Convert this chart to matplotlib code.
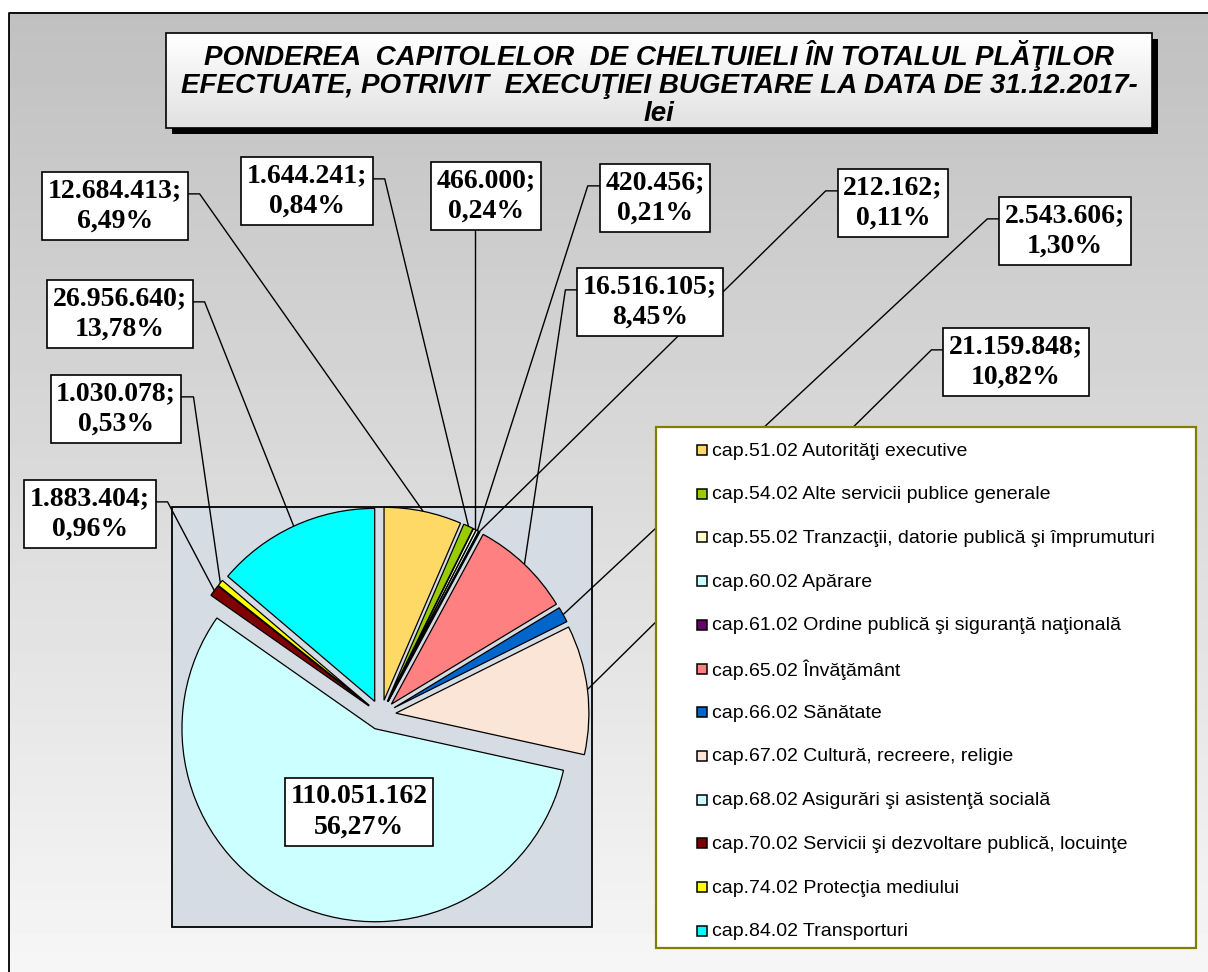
import numpy as np
import matplotlib
matplotlib.use("Agg")
import matplotlib.pyplot as plt
from matplotlib.patches import Rectangle
from matplotlib import font_manager

W, H = 1208, 972

titlu = ["PONDEREA  CAPITOLELOR  DE CHELTUIELI ÎN TOTALUL PLĂŢILOR",
         "EFECTUATE, POTRIVIT  EXECUŢIEI BUGETARE LA DATA DE 31.12.2017-",
         "lei"]

capitole = [
    "cap.51.02 Autorităţi executive",
    "cap.54.02 Alte servicii publice generale",
    "cap.55.02 Tranzacţii, datorie publică şi împrumuturi",
    "cap.60.02 Apărare",
    "cap.61.02 Ordine publică şi siguranţă naţională",
    "cap.65.02 Învăţământ",
    "cap.66.02 Sănătate",
    "cap.67.02 Cultură, recreere, religie",
    "cap.68.02 Asigurări şi asistenţă socială",
    "cap.70.02 Servicii şi dezvoltare publică, locuinţe",
    "cap.74.02 Protecţia mediului",
    "cap.84.02 Transporturi",
]
valori = [12684413, 1644241, 466000, 420456, 212162, 16516105,
          2543606, 21159848, 110051162, 1883404, 1030078, 26956640]
culori = ["#ffd966", "#99cc00", "#ffffcc", "#ccffff", "#660066", "#ff8080",
          "#0066cc", "#fbe5d6", "#ccffff", "#800000", "#ffff00", "#00ffff"]

# pozitia etichetelor (pixeli, y de sus) si latura din care pleaca linia
etichete_poz = [(115, 206, "right"), (307, 191, "right"), (486, 196, "bottom"),
                (655, 198, "left"), (893, 203, "left"), (650, 302, "left"),
                (1065, 231, "left"), (1016, 362, "left"), (359, 812, None),
                (90, 514, "right"), (116, 409, "right"), (120, 314, "right")]


def fy(y):
    return H - y


def fmt_val(v):
    return f"{v:,}".replace(",", ".")


def fmt_pct(p):
    return f"{p:.2f}".replace(".", ",") + "%"


names = {f.name for f in font_manager.fontManager.ttflist}
if "Liberation Sans Narrow" in names:
    title_font, title_size = "Liberation Sans Narrow", 25.3
else:
    title_font, title_size = "Liberation Sans", 20

fig = plt.figure(figsize=(W / 100, H / 100), dpi=100)
ax = fig.add_axes([0, 0, 1, 1])

# fundal cu gradient si chenar
grad = np.linspace(192, 246, 256).reshape(-1, 1) / 255
ax.imshow(grad, cmap="gray", vmin=0, vmax=1, aspect="auto",
          extent=(9, W, 0, fy(13)), origin="upper", zorder=0)
ax.plot([9, 9, W + 5], [-5, fy(13), fy(13)], color="black", lw=1.3, zorder=1)

# zona graficului
ax.add_patch(Rectangle((172, fy(927)), 420, 420, fc="#d6dce4", ec="black",
                       lw=1.3, zorder=1))

wedges, _ = ax.pie(valori, colors=culori, startangle=90, counterclock=False,
                   explode=[15] * len(valori), radius=193, center=(381, fy(715)),
                   wedgeprops=dict(edgecolor="black", linewidth=0.9, zorder=3))

total = sum(valori)
texte = []
for i, v in enumerate(valori):
    x, y, side = etichete_poz[i]
    sep = "" if side is None else ";"
    t = ax.text(x, fy(y), f"{fmt_val(v)}{sep}\n{fmt_pct(v / total * 100)}",
                ha="center", va="center", fontsize=20, fontweight="bold",
                family="Liberation Serif", linespacing=1.33, zorder=6,
                bbox=dict(boxstyle="square,pad=0.2", fc="white", ec="black", lw=1.2))
    texte.append(t)

ax.set_xlim(0, W)
ax.set_ylim(0, H)
ax.set_aspect("auto")
ax.axis("off")

fig.canvas.draw()
rend = fig.canvas.get_renderer()
for i, w in enumerate(wedges):
    side = etichete_poz[i][2]
    if side is None:
        continue
    th = np.deg2rad((w.theta1 + w.theta2) / 2)
    px = w.center[0] + w.r * np.cos(th)
    py = w.center[1] + w.r * np.sin(th)
    bb = texte[i].get_bbox_patch().get_window_extent(rend)
    ay = bb.y1 - 0.32 * bb.height
    if side == "right":
        xs, ys = [bb.x1, bb.x1 + 12, px], [ay, ay, py]
    elif side == "left":
        xs, ys = [bb.x0, bb.x0 - 12, px], [ay, ay, py]
    else:
        xs, ys = [px, px], [bb.y0, py]
    ax.plot(xs, ys, color="black", lw=1.0, zorder=2)

# titlu cu umbra si gradient
tx0, ty0, tx1, ty1 = 166, 33, 1152, 128
ax.add_patch(Rectangle((tx0 + 6, fy(ty1 + 6)), tx1 - tx0, ty1 - ty0,
                       fc="black", ec="none", zorder=4))
ax.add_patch(Rectangle((tx0, fy(ty1)), tx1 - tx0, ty1 - ty0, fc="none",
                       ec="black", lw=1.2, zorder=5.5))
tgrad = np.linspace(1.0, 0.88, 64).reshape(-1, 1)
ax.imshow(tgrad, cmap="gray", vmin=0, vmax=1, aspect="auto",
          extent=(tx0, tx1, fy(ty1), fy(ty0)), origin="upper", zorder=5)
for linie, yl in zip(titlu, [56, 86, 114]):
    ax.text((tx0 + tx1) / 2, fy(yl), linie, ha="center", va="center",
            family=title_font, fontsize=title_size, fontweight="bold",
            style="italic", zorder=6)

# legenda
lx0, ly0, lx1, ly1 = 656, 427, 1196, 948
ax.add_patch(Rectangle((lx0, fy(ly1)), lx1 - lx0, ly1 - ly0, fc="white",
                       ec="#808000", lw=1.6, zorder=5))
for i, nume in enumerate(capitole):
    yr = 451 + i * 43.7
    ax.add_patch(Rectangle((697, fy(yr + 4)), 10, 10, fc=culori[i], ec="black",
                           lw=1.1, zorder=6))
    ax.text(712, fy(yr), nume, ha="left", va="center", fontsize=14,
            family="Liberation Sans", zorder=6)

ax.set_xlim(0, W)
ax.set_ylim(0, H)
fig.savefig("out.png", dpi=100, facecolor="white")
